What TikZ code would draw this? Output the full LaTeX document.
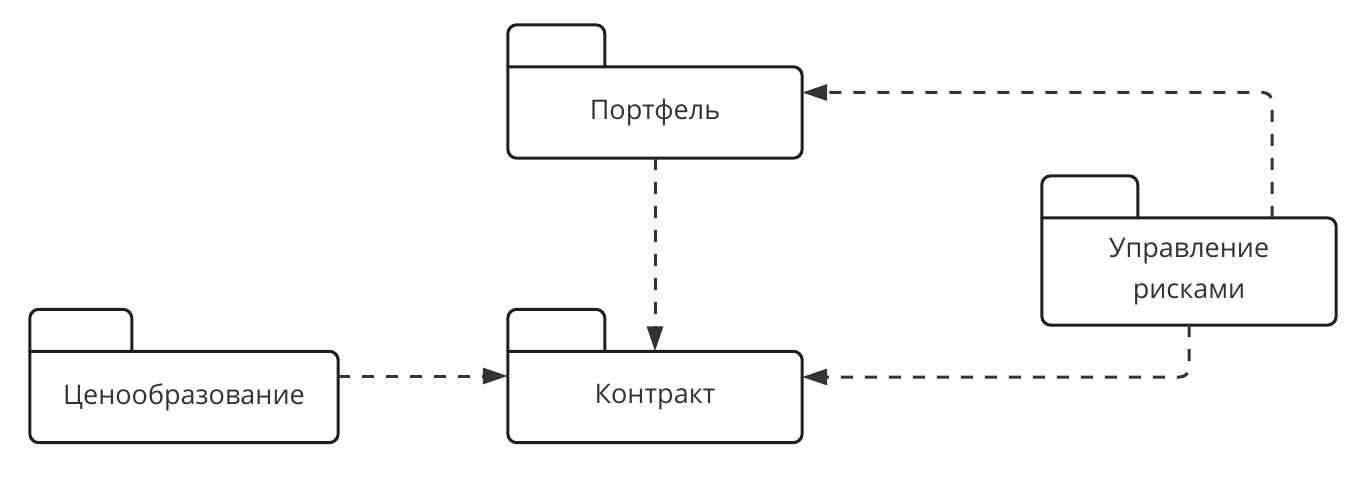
\documentclass[tikz,border=0pt]{standalone}
\usepackage{fontspec}
\setmainfont{Open Sans}
\usetikzlibrary{arrows.meta,positioning}

\definecolor{linecol}{HTML}{1E1E1E}
\definecolor{dashcol}{HTML}{333333}
\definecolor{textcol}{HTML}{333333}

% outline of a package: body with square top-left corner plus the tab
\newcommand{\pkgframe}[2]{%
  \draw[frame] (#1.north west) -- (#1.south west) -- (#1.south east)
    -- (#1.north east) -- (#1.north west);
  \draw[frame] (#1.north west) -- ++(0,-42) -- ++(#2,0) -- ++(0,42);
}

\begin{document}
\begin{tikzpicture}[
  x=1pt,y=-1pt,
  >=Stealth,
  pkg/.style={minimum width=294pt,minimum height=91pt,inner sep=0pt,
    align=center,text=textcol,font=\fontsize{27}{41}\selectfont},
  frame/.style={draw=linecol,line width=3pt,rounded corners=9pt,line cap=round},
  dep/.style={-{Triangle[length=25pt,width=16pt]},draw=dashcol,
    line width=3pt,dash pattern=on 12pt off 12pt,rounded corners=9pt}
]
  \useasboundingbox (0,0) rectangle (1365,478);

  \node[pkg] (portfolio) at (655,112.5) {Портфель};
  \node[pkg] (contract) at (655,397) {Контракт};
  \node[pkg,minimum width=308pt] (pricing) at (184,397) {Ценообразование};
  \node[pkg,minimum height=107pt] (risk) at (1189,271.5) {Управление\\рисками};

  \pkgframe{portfolio}{97}
  \pkgframe{contract}{97}
  \pkgframe{pricing}{102}
  \pkgframe{risk}{96}

  \draw[dep] (portfolio) -- (contract);
  \draw[dep] ([yshift=21pt]pricing.east) -- ([yshift=21pt]contract.west);
  \draw[dep] ([xshift=83pt]risk.north) |- ([yshift=20pt]portfolio.east);
  \draw[dep] (risk.south) |- ([yshift=20pt]contract.east);
\end{tikzpicture}
\end{document}
